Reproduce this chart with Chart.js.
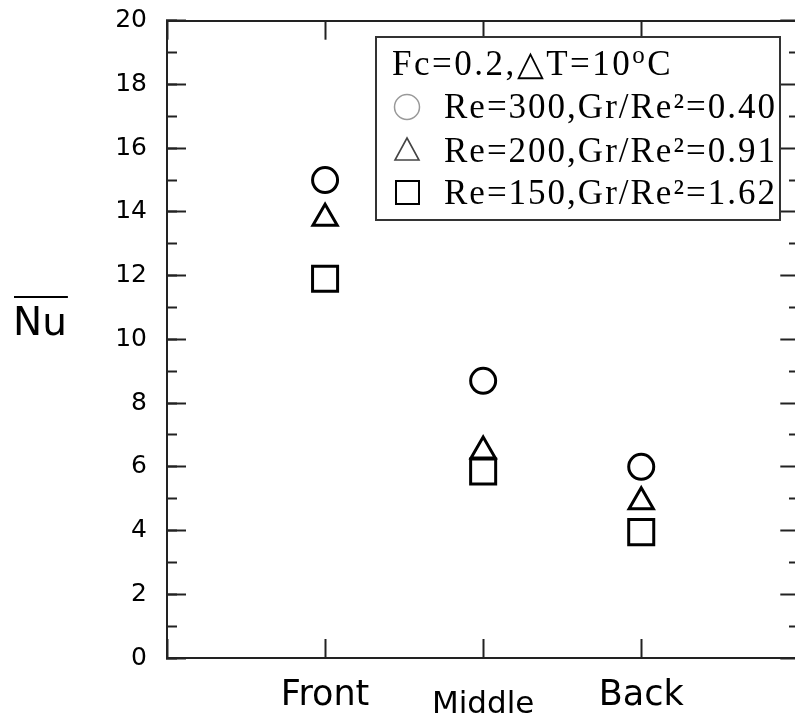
<!DOCTYPE html>
<html><head><meta charset="utf-8">
<script src="https://cdn.jsdelivr.net/npm/chart.js@4.4.1/dist/chart.umd.min.js"></script>
<style>
html,body{margin:0;padding:0;background:#fff;overflow:hidden;width:795px;height:720px}
#wrap{width:820px;height:720px;position:relative}
</style></head>
<body><div id="wrap"><canvas id="c" width="820" height="720"></canvas></div>
<script>
// ---- data ----
const categories = ['Front', 'Middle', 'Back'];
const re300 = [15.0, 8.7, 6.0];
const re200 = [13.8, 6.5, 4.9];
const re150 = [11.9, 5.85, 3.95];
const seriesLabels = ['Re=300,Gr/Re²=0.40', 'Re=200,Gr/Re²=0.91', 'Re=150,Gr/Re²=1.62'];
const legendTitle = 'Fc=0.2,△T=10°C';
const yTitle = 'Nu';
const yMin = 0, yMax = 20, yMajorStep = 2, yMinorStep = 1;

const toPoints = vals => vals.map((v, i) => ({x: i + 1, y: v}));
const xLabel = v => (Number.isInteger(v) && v >= 1 && v <= categories.length) ? categories[v - 1] : '';
const isMinor = ctx => ctx && ctx.tick && (Math.round(ctx.tick.value) % yMajorStep !== 0);

const AX = '#222';

function spacedText(ctx, text, x, y, spacing, size) {
  const base = size + 'px "Liberation Serif", "Times New Roman", serif';
  for (const ch of Array.from(text)) {
    if (ch === '°') {
      ctx.font = Math.round(size * 0.72) + 'px "Liberation Serif", serif';
      ctx.fillText('o', x, y - size * 0.33);
      x += ctx.measureText('o').width + spacing;
      continue;
    }
    ctx.font = base;
    ctx.fillText(ch, x, y);
    x += ctx.measureText(ch).width + spacing;
  }
  return x;
}

function fixScale(s, size, key) {
  s[key] = size;
  s.paddingTop = 0; s.paddingBottom = 0; s.paddingLeft = 0; s.paddingRight = 0;
}

const decor = {
  id: 'decor',
  afterDraw(chart) {
    const ctx = chart.ctx;
    ctx.save();
    // y title with overline
    ctx.fillStyle = '#000';
    ctx.font = '39px "DejaVu Sans"';
    ctx.textBaseline = 'alphabetic';
    ctx.textAlign = 'left';
    ctx.fillText(yTitle, 13, 335);
    const w = ctx.measureText(yTitle).width;
    ctx.strokeStyle = '#000'; ctx.lineWidth = 2;
    ctx.beginPath(); ctx.moveTo(14, 297); ctx.lineTo(14 + w, 297); ctx.stroke();

    // legend box
    const bx = 376, by = 37, bw = 404, bh = 183;
    ctx.fillStyle = '#fff'; ctx.fillRect(bx, by, bw, bh);
    ctx.strokeStyle = '#333'; ctx.lineWidth = 2; ctx.strokeRect(bx, by, bw, bh);
    ctx.fillStyle = '#000';
    spacedText(ctx, legendTitle, 392, 75, 2.5, 35);
    const baselines = [118, 162, 204];
    seriesLabels.forEach((t, i) => spacedText(ctx, t, 444, baselines[i], 2, 35));
    // legend symbols
    ctx.strokeStyle = '#999'; ctx.lineWidth = 1.5;
    ctx.beginPath(); ctx.arc(407, 107, 12.5, 0, Math.PI * 2); ctx.stroke();
    ctx.strokeStyle = '#444'; ctx.lineWidth = 1.6;
    ctx.beginPath(); ctx.moveTo(407, 138); ctx.lineTo(419, 160); ctx.lineTo(395, 160); ctx.closePath(); ctx.stroke();
    ctx.strokeStyle = '#000'; ctx.lineWidth = 2;
    ctx.strokeRect(396, 181, 23, 23);
    ctx.restore();
  }
};

const pointDs = (label, vals, style, r) => ({
  label, data: toPoints(vals), xAxisID: 'x', yAxisID: 'y',
  pointStyle: style, pointRadius: r, pointHoverRadius: r,
  pointBorderWidth: 3, pointHoverBorderWidth: 3,
  pointBorderColor: '#000', pointBackgroundColor: 'rgba(0,0,0,0)',
  showLine: false
});

new Chart(document.getElementById('c'), {
  type: 'scatter',
  data: {
    datasets: [
      pointDs(seriesLabels[0], re300, 'circle', 12.5),
      pointDs(seriesLabels[1], re200, 'triangle', 14),
      pointDs(seriesLabels[2], re150, 'rect', 17.7)
    ]
  },
  options: {
    responsive: false,
    animation: false,
    devicePixelRatio: 1,
    layout: {padding: 0},
    plugins: {legend: {display: false}, tooltip: {enabled: false}},
    scales: {
      x: {
        type: 'linear', position: 'bottom', min: 0, max: categories.length + 1,
        ticks: {
          stepSize: 1, autoSkip: false, maxRotation: 0, padding: 36, color: '#000',
          callback: v => xLabel(v),
          font: ctx => (ctx.tick && ctx.tick.value === 2)
            ? {family: 'DejaVu Sans', size: 31, lineHeight: 1.95}
            : {family: 'DejaVu Sans', size: 35, lineHeight: 1.2}
        },
        grid: {drawOnChartArea: false, tickLength: -19, tickWidth: 2, tickColor: AX},
        border: {color: AX, width: 2},
        afterFit: s => fixScale(s, 62, 'height')
      },
      x2: {
        type: 'linear', position: 'top', min: 0, max: categories.length + 1,
        ticks: {stepSize: 1, display: false},
        grid: {drawOnChartArea: false, tickLength: -19, tickWidth: 2, tickColor: AX},
        border: {color: AX, width: 2},
        afterFit: s => fixScale(s, 20, 'height')
      },
      y: {
        type: 'linear', position: 'left', min: yMin, max: yMax, weight: 1,
        ticks: {
          stepSize: yMajorStep, padding: 39, color: '#000',
          font: {family: 'DejaVu Sans', size: 25}
        },
        grid: {drawOnChartArea: false, tickLength: -19, tickWidth: 2, tickColor: AX},
        border: {color: AX, width: 2},
        afterFit: s => fixScale(s, 167, 'width')
      },
      yMinor: {
        type: 'linear', position: 'left', min: yMin, max: yMax, weight: 0,
        ticks: {stepSize: yMinorStep, display: false},
        grid: {drawOnChartArea: false, tickLength: -10, tickWidth: 2, tickColor: AX},
        border: {color: AX, width: 2},
        afterFit: s => fixScale(s, 0, 'width')
      },
      yR: {
        type: 'linear', position: 'right', min: yMin, max: yMax,
        ticks: {stepSize: yMinorStep, display: false},
        grid: {
          drawOnChartArea: false, tickLength: -19, tickWidth: 2, tickColor: AX,
          tickBorderDash: ctx => isMinor(ctx) ? [11, 100] : []
        },
        border: {color: AX, width: 2},
        afterFit: s => fixScale(s, 19, 'width')
      }
    }
  },
  plugins: [decor]
});
</script>
</body></html>
